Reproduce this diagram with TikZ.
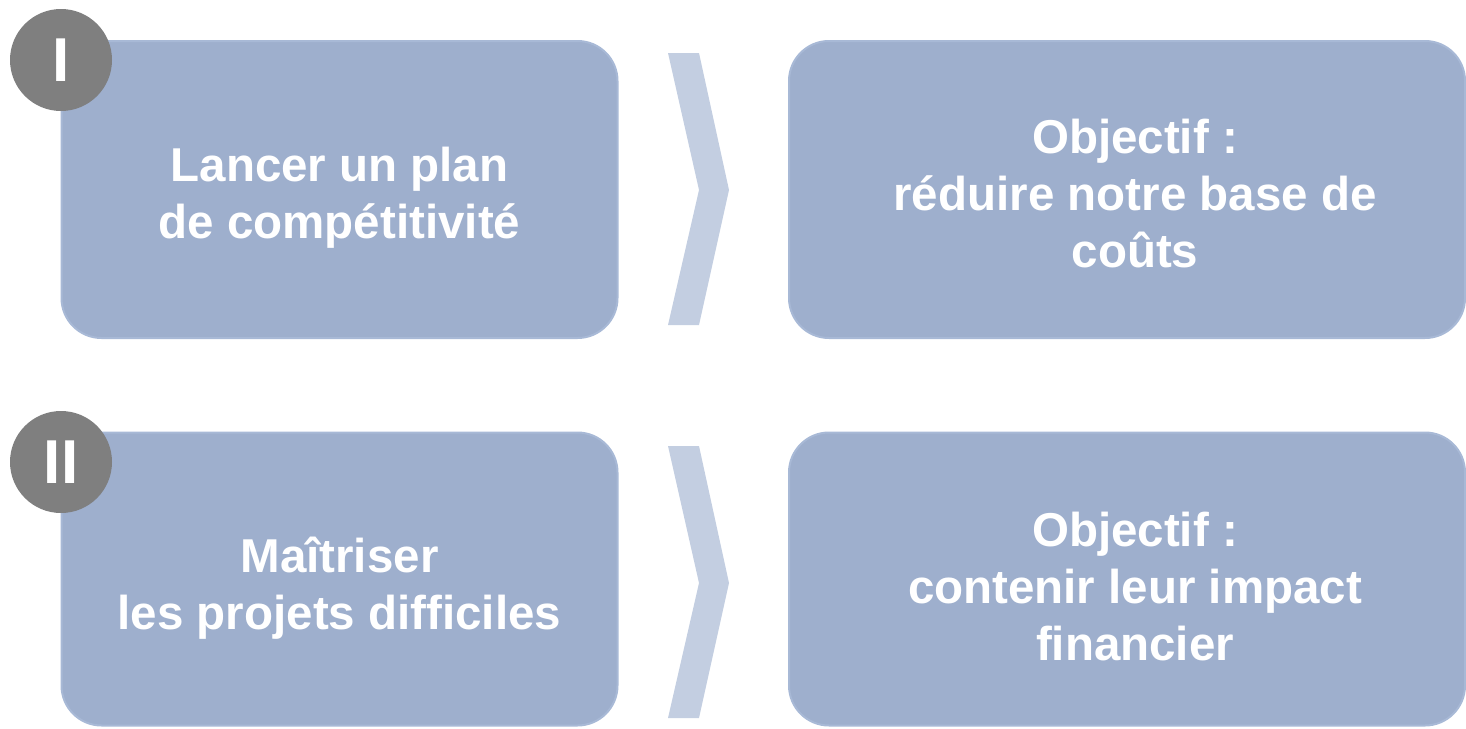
\documentclass[tikz,border=0pt]{standalone}
\usepackage{fontspec}
\setmainfont{Liberation Sans}
\definecolor{boxblue}{RGB}{158,175,205}
\definecolor{boxedge}{RGB}{168,185,214}
\definecolor{chev}{RGB}{195,206,225}
\definecolor{badgegray}{RGB}{127,127,127}
\begin{document}
\begin{tikzpicture}[x=1pt,y=-1pt,
  panel/.style={draw=boxedge, line width=2pt, fill=boxblue, rounded corners=40pt,
    inner sep=0pt},
  label/.style={text=white, align=center, inner sep=0pt,
    font=\bfseries\fontsize{47.5}{57}\selectfont},
  badge/.style={circle, fill=badgegray, minimum size=102pt, inner sep=0pt,
    text=white, font=\bfseries\fontsize{62}{62}\selectfont},
  chevron/.style={fill=chev, draw=none}]
\useasboundingbox (0,0) rectangle (1466,728);
\clip (0,0) rectangle (1466,728);

% row I
\node[panel, minimum width=556pt, minimum height=297pt] (a1) at (339.5,189.5) {};
\node[panel, minimum width=676pt, minimum height=297pt] (b1) at (1127,189.5) {};
\fill[chevron] (668,53) -- (699,53) -- (729,190) -- (699,325) -- (668,325) -- (699,190) -- cycle;
\node[label] (ta1) at (339.5,198) {Lancer un plan\\de compétitivité};
\node[label] (tb1) at (1135,194) {Objectif :\\réduire notre base de\\coûts};
\node[badge] (n1) at (61,60) {I};

% row II
\node[panel, minimum width=556pt, minimum height=293pt] (a2) at (339.5,579) {};
\node[panel, minimum width=676pt, minimum height=293pt] (b2) at (1127,579) {};
\fill[chevron] (668,446) -- (699,446) -- (729,583) -- (699,718) -- (668,718) -- (699,583) -- cycle;
\node[label] (ta2) at (339.5,588) {Maîtriser\\les projets difficiles};
\node[label] (tb2) at (1135,587) {Objectif :\\contenir leur impact\\financier};
\node[badge] (n2) at (61,462) {II};
\end{tikzpicture}
\end{document}
